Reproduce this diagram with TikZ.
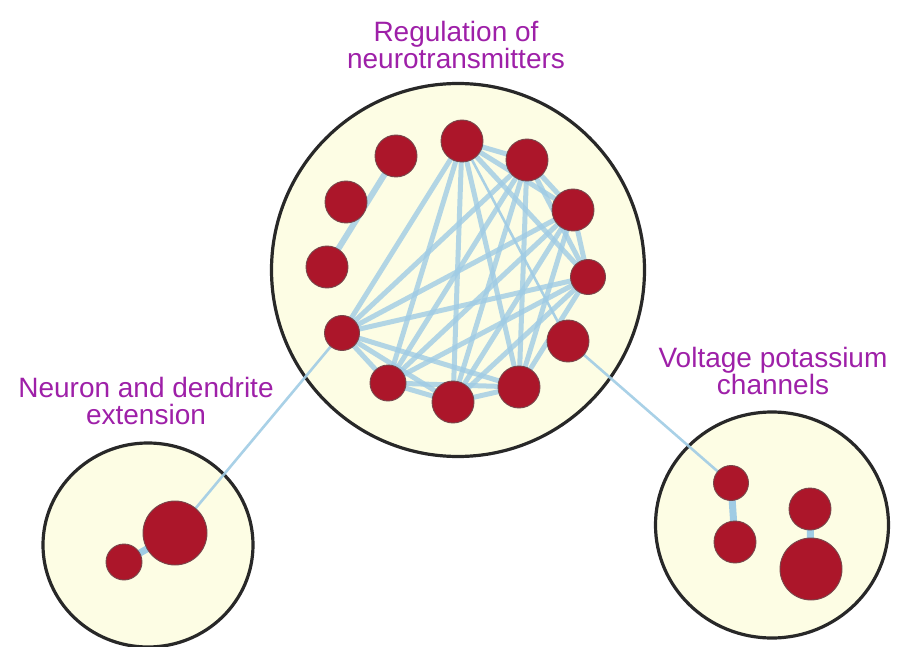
\documentclass[tikz,border=0pt]{standalone}
\usepackage{fontspec}
\setmainfont{Liberation Sans}
\usetikzlibrary{shapes.geometric}
\pgfdeclarelayer{bg}
\pgfdeclarelayer{edges}
\pgfsetlayers{bg,edges,main}
\definecolor{cellfill}{RGB}{253,253,228}
\definecolor{cellline}{RGB}{40,40,40}
\definecolor{nodered}{RGB}{172,22,42}
\definecolor{noderim}{RGB}{120,70,75}
\definecolor{edgeblue}{RGB}{160,204,228}
\definecolor{labelpurple}{RGB}{158,32,168}
\tikzset{
  cellshape/.style={ellipse, draw=cellline, fill=cellfill, line width=3.2pt, inner sep=0pt},
  gene/.style={circle, fill=nodered, draw=noderim, line width=0.9pt, inner sep=0pt, minimum size=#1},
  link/.style={draw=edgeblue, line width=5pt, opacity=0.8},
  thinlink/.style={draw=edgeblue, line width=2.6pt, opacity=0.9},
  thicklink/.style={draw=edgeblue, line width=7pt},
  lbl/.style={text=labelpurple, align=center, inner sep=0pt, font=\fontsize{28}{27}\selectfont}
}
\begin{document}
\begin{tikzpicture}[x=1pt,y=-1pt]
\useasboundingbox (0,0) rectangle (908,647);
% cells
\begin{pgfonlayer}{bg}
\node[cellshape, minimum width=373pt, minimum height=373pt] (big) at (458,270) {};
\node[cellshape, minimum width=210pt, minimum height=204pt] (left) at (148,545) {};
\node[cellshape, minimum width=233pt, minimum height=226pt] (right) at (772,525) {};
\end{pgfonlayer}
% genes in big cell
\node[gene=42pt] (T) at (462,141) {};
\node[gene=42pt] (A) at (527,160) {};
\node[gene=42pt] (B) at (573,210) {};
\node[gene=35pt] (C) at (588,277) {};
\node[gene=42pt] (D) at (568,341) {};
\node[gene=42pt] (E) at (519,387) {};
\node[gene=42pt] (F) at (453,402) {};
\node[gene=36pt] (G) at (388,383) {};
\node[gene=35pt] (H) at (342,333) {};
\node[gene=42pt] (L1) at (327,267) {};
\node[gene=42pt] (L2) at (346,202) {};
\node[gene=42pt] (L3) at (396,156) {};
% genes in left cell
\node[gene=64pt] (N1) at (175,533) {};
\node[gene=36pt] (N2) at (124,562) {};
% genes in right cell
\node[gene=35pt] (R1) at (731,483) {};
\node[gene=42pt] (R2) at (735,542) {};
\node[gene=42pt] (R3) at (810,509) {};
\node[gene=62pt] (R4) at (811,569) {};
% edges
\begin{pgfonlayer}{edges}
\foreach \a/\b in {T/A,T/B,T/C,T/E,T/F,T/G,T/H,
                   A/B,A/C,A/E,A/F,A/G,A/H,
                   B/C,B/E,B/F,B/G,B/H,
                   C/E,C/F,C/G,C/H,
                   E/F,E/G,E/H,
                   F/G,F/H,
                   G/H}
  \draw[link] (\a.center) -- (\b.center);
\draw[thinlink] (T.center) -- (D.center);
\draw[link, line width=6pt] (L3.center) -- (L1.center);
\draw[thinlink] (H.center) -- (N1.center);
\draw[thinlink] (D.center) -- (R1.center);
\draw[thicklink] (N1.center) -- (N2.center);
\draw[thicklink] (R1.center) -- (R2.center);
\draw[thicklink] (R3.center) -- (R4.center);
\end{pgfonlayer}
% labels
\node[lbl] (lblreg) at (456,44.5) {Regulation of\\neurotransmitters};
\node[lbl] (lblneu) at (146,401) {Neuron and dendrite\\extension};
\node[lbl] (lblvol) at (773,371) {Voltage potassium\\channels};
\end{tikzpicture}
\end{document}
